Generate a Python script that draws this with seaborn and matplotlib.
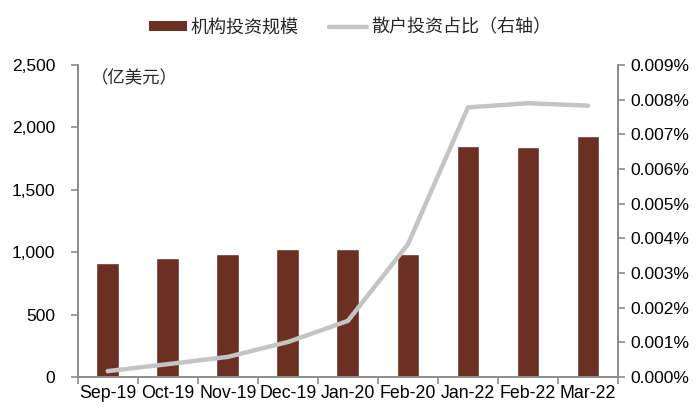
import matplotlib.pyplot as plt
import matplotlib.ticker as mticker
from matplotlib.patches import Patch
from matplotlib.lines import Line2D
import seaborn as sns
import pandas as pd

sns.set_theme(style="white")
plt.rcParams['font.family'] = ['Liberation Sans', 'Noto Sans CJK SC', 'DejaVu Sans']

# data
months = ['Sep-19', 'Oct-19', 'Nov-19', 'Dec-19', 'Jan-20', 'Feb-20', 'Jan-22', 'Feb-22', 'Mar-22']
inst_scale = [913, 950, 988, 1025, 1025, 982, 1848, 1842, 1930]          # 亿美元
retail_share = [0.00017, 0.00037, 0.00058, 0.00101, 0.00162, 0.00383,
                0.00778, 0.00790, 0.00783]                                # %

df = pd.DataFrame({'month': months, 'inst': inst_scale, 'retail': retail_share})

bar_color = '#6B3022'
line_color = '#C4C4C4'
spine_color = '#8C8C8C'

fig = plt.figure(figsize=(7, 4.2), dpi=100)
ax = fig.add_axes([0.111, 0.1024, 0.772, 0.7426])

sns.barplot(data=df, x='month', y='inst', color=bar_color, width=0.38,
            saturation=1, ax=ax)

ax2 = ax.twinx()
ax2.plot(range(len(months)), df['retail'], color=line_color, lw=3.2,
         solid_capstyle='round', solid_joinstyle='round')

ax.set_xlim(-0.5, len(months) - 0.5)
ax.set_ylim(0, 2500)
ax.yaxis.set_major_locator(mticker.MultipleLocator(500))
ax.yaxis.set_major_formatter(mticker.FuncFormatter(lambda v, p: f"{v:,.0f}"))
ax2.set_ylim(0, 0.009)
ax2.yaxis.set_major_locator(mticker.MultipleLocator(0.001))
ax2.yaxis.set_major_formatter(mticker.FuncFormatter(lambda v, p: f"{v:.3f}%"))

ax.set_xlabel('')
ax.set_ylabel('')
ax.set_xticks(range(len(months)))
ax.set_xticklabels(months)
ax.xaxis.set_minor_locator(mticker.FixedLocator([i - 0.5 for i in range(len(months) + 1)]))

for a in (ax, ax2):
    a.spines['top'].set_visible(False)
    for s in ('left', 'right', 'bottom'):
        a.spines[s].set_color(spine_color)
        a.spines[s].set_linewidth(1.2)
    a.grid(False)

ax.tick_params(axis='x', which='major', length=0, pad=6, labelsize=12.8, colors='black')
ax.tick_params(axis='x', which='minor', length=5, width=1.2, color=spine_color, direction='out', bottom=True)
ax.tick_params(axis='y', length=5, width=1.2, color=spine_color, direction='out', left=True,
               labelsize=12.5, labelcolor='black', pad=11)
ax2.tick_params(axis='y', length=5, width=1.2, color=spine_color, direction='out', right=True,
                labelsize=12.5, labelcolor='black', pad=4)

ax.text(0.025, 0.985, '（亿美元）', transform=ax.transAxes, fontsize=12.5, va='top', ha='left')

handles = [Patch(facecolor=bar_color, edgecolor='none'),
           Line2D([0], [0], color=line_color, lw=3.2)]
fig.legend(handles, ['机构投资规模', '散户投资占比（右轴）'], loc='center',
           bbox_to_anchor=(0.5, 0.933), ncol=2, frameon=False, fontsize=13,
           handlelength=2.1, handleheight=0.45, handletextpad=0.2, columnspacing=1.7)

fig.savefig('out.png', dpi=100)
